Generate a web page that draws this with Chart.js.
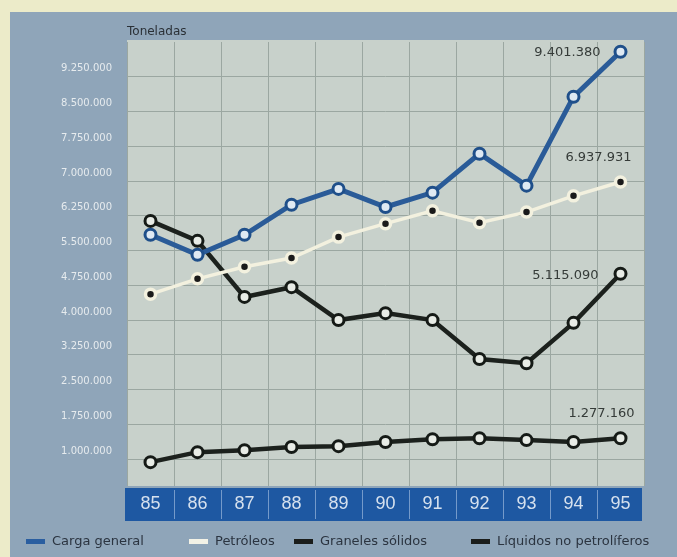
<!DOCTYPE html>
<html>
<head>
<meta charset="utf-8">
<script src="https://cdn.jsdelivr.net/npm/chart.js@4"></script>
<style>
  html, body { margin: 0; padding: 0; background: #ecebc9; }
  canvas { display: block; }
</style>
</head>
<body>
<canvas id="c" width="677" height="557"></canvas>
<script>
// ---- data ----
const categories = ['85', '86', '87', '88', '89', '90', '91', '92', '93', '94', '95'];
const cargaGeneral = [5840000, 5410000, 5840000, 6490000, 6830000, 6440000, 6750000, 7590000, 6900000, 8820000, 9790000];
const petroleos    = [4560000, 4890000, 5150000, 5340000, 5790000, 6080000, 6360000, 6100000, 6330000, 6680000, 6980000];
const graneles     = [6140000, 5710000, 4500000, 4710000, 4000000, 4150000, 4000000, 3160000, 3070000, 3940000, 5000000];
const liquidos     = [935000, 1150000, 1190000, 1260000, 1280000, 1370000, 1430000, 1450000, 1410000, 1370000, 1450000];
const yTicks = [1000000, 1750000, 2500000, 3250000, 4000000, 4750000, 5500000, 6250000, 7000000, 7750000, 8500000, 9250000];
const seriesNames = ['Carga general', 'Petróleos', 'Graneles sólidos', 'Líquidos no petrolíferos'];
const endLabels = ['9.401.380', '6.937.931', '5.115.090', '1.277.160'];
const yTitle = 'Toneladas';

// ---- styles ----
const GRID = '#9ba7a1';
const fmt = v => String(v).replace(/\B(?=(\d{3})+(?!\d))/g, '.');

const bgPlugin = {
  id: 'bg',
  beforeDraw(chart) {
    const ctx = chart.ctx, a = chart.chartArea;
    ctx.save();
    ctx.fillStyle = '#ecebc9';
    ctx.fillRect(0, 0, chart.width, chart.height);
    ctx.fillStyle = '#8fa5b9';
    ctx.fillRect(10, 12, chart.width - 10, chart.height - 12);
    ctx.fillStyle = '#c8d1cb';
    ctx.fillRect(a.left, a.top - 2, a.right - a.left, a.bottom - a.top + 2);
    ctx.fillStyle = '#1e58a2';
    ctx.fillRect(a.left - 2, a.bottom + 2, a.right - a.left, 33);
    ctx.restore();
  },
  afterDraw(chart) {
    const ctx = chart.ctx, a = chart.chartArea, xs = chart.scales.x;
    ctx.save();
    // separators in the category band
    ctx.strokeStyle = 'rgba(190,210,235,0.55)';
    ctx.lineWidth = 1;
    for (let i = 1; i < categories.length; i++) {
      const x = Math.round((xs.getPixelForValue(i - 1) + xs.getPixelForValue(i)) / 2) + 0.5;
      ctx.beginPath();
      ctx.moveTo(x, a.bottom + 4);
      ctx.lineTo(x, a.bottom + 33);
      ctx.stroke();
    }
    // axis title
    ctx.fillStyle = '#2a3036';
    ctx.font = '12px "DejaVu Sans"';
    ctx.textBaseline = 'middle';
    ctx.textAlign = 'left';
    ctx.fillText(yTitle, a.left, 32);
    // end labels
    ctx.fillStyle = '#353b38';
    ctx.font = '13px "DejaVu Sans"';
    const offs = [[-20, 1, 'right'], [-22, -24, 'center'], [-22, 2, 'right'], [-19, -25, 'center']];
    chart.data.datasets.forEach((ds, i) => {
      const meta = chart.getDatasetMeta(i);
      const p = meta.data[meta.data.length - 1];
      ctx.textAlign = offs[i][2];
      ctx.fillText(endLabels[i], p.x + offs[i][0], p.y + offs[i][1]);
    });
    // legend
    const colors = ['#2a5ea0', '#f3f2e6', '#1b1d1b', '#1b1d1b'];
    const boxX = [26, 189, 294, 471];
    ctx.font = '13px "DejaVu Sans"';
    ctx.textAlign = 'left';
    const y = 542;
    seriesNames.forEach((n, i) => {
      ctx.fillStyle = colors[i];
      ctx.fillRect(boxX[i], y - 3, 19, 5);
      ctx.fillStyle = '#2b3440';
      ctx.fillText(n, boxX[i] + 26, y);
    });
    ctx.restore();
  }
};

new Chart(document.getElementById('c'), {
  type: 'line',
  data: {
    labels: categories,
    datasets: [
      { label: seriesNames[0], data: cargaGeneral, borderColor: '#2a5b98', borderWidth: 5,
        pointRadius: 5.5, pointBorderWidth: 3, pointBorderColor: '#1f4f8a', pointBackgroundColor: '#dfe9f3', tension: 0 },
      { label: seriesNames[1], data: petroleos, borderColor: '#f3f1df', borderWidth: 3.5,
        pointRadius: 5, pointBorderWidth: 3.5, pointBorderColor: '#f3f1df', pointBackgroundColor: '#1a1a1a', tension: 0 },
      { label: seriesNames[2], data: graneles, borderColor: '#1c211d', borderWidth: 4.5,
        pointRadius: 5.5, pointBorderWidth: 3, pointBorderColor: '#151a16', pointBackgroundColor: '#e8ece6', tension: 0 },
      { label: seriesNames[3], data: liquidos, borderColor: '#1c211d', borderWidth: 4.5,
        pointRadius: 5.5, pointBorderWidth: 3, pointBorderColor: '#151a16', pointBackgroundColor: '#e8ece6', tension: 0 }
    ]
  },
  options: {
    responsive: false,
    devicePixelRatio: 1,
    animation: false,
    clip: false,
    layout: { padding: { left: 0, top: 42, right: 33, bottom: 36 } },
    plugins: { legend: { display: false }, tooltip: { enabled: false } },
    scales: {
      x: {
        type: 'category',
        offset: true,
        afterFit: s => { s.height = 35; },
        grid: { offset: true, color: GRID, lineWidth: 1, drawTicks: false },
        border: { display: false },
        ticks: { color: '#d6e1ee', font: { size: 18, family: 'Liberation Sans' }, padding: 7, autoSkip: false, maxRotation: 0 }
      },
      y: {
        min: 420000,
        max: 10000000,
        afterFit: s => { s.width = 127; },
        afterBuildTicks: s => { s.ticks = yTicks.map(v => ({ value: v })); },
        grid: { color: GRID, lineWidth: 1, drawTicks: false },
        border: { display: false },
        ticks: { color: '#e6ebee', font: { size: 10, family: 'DejaVu Sans' }, padding: 15, labelOffset: -8, callback: v => fmt(v) }
      }
    }
  },
  plugins: [bgPlugin]
});
</script>
</body>
</html>
